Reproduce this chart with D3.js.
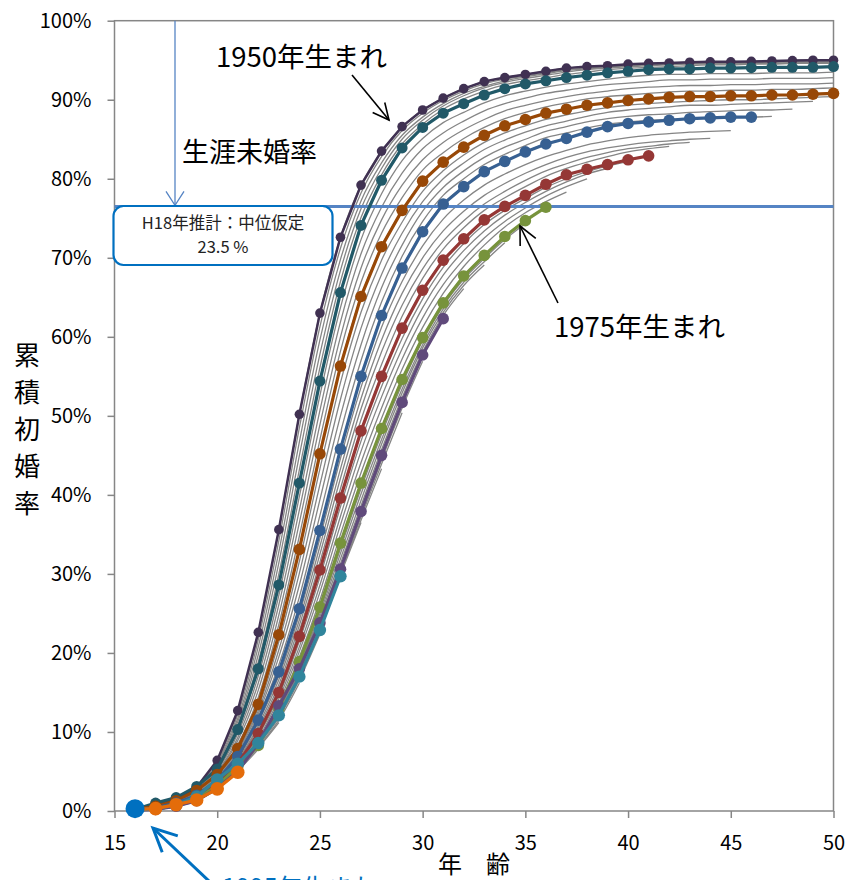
<!DOCTYPE html>
<html><head><meta charset="utf-8">
<script src="https://cdn.jsdelivr.net/npm/d3@7"></script>
<style>
body{margin:0;background:#fff;}
svg{display:block;}
text{font-family:"Noto Sans CJK JP","Noto Sans",sans-serif;}
</style>
</head><body>
<svg id="chart" width="848" height="880"></svg>
<script>
// ---------- data (cumulative first-marriage rate, %, from age 16) ----------
const START_AGE = 16;
const xTickValues = [15, 20, 25, 30, 35, 40, 45, 50];
const yTickValues = [0, 10, 20, 30, 40, 50, 60, 70, 80, 90, 100];
const lifetimeUnmarried = 23.5; // H18推計：中位仮定

// highlighted cohorts
const c1950 = [0.3,0.8,1.5,3.0,6.4, 12.7,22.6,35.6,50.2,63.0, 72.6,79.2,83.5,86.6,88.7, 90.2,91.4,92.3,92.8,93.2, 93.6,94.0,94.2,94.3,94.5, 94.6,94.65,94.75,94.8,94.8, 94.85,94.9,94.95,95.0,95.0];
const c1955 = [0.2,1.0,1.7,3.1,5.3, 10.3,18.0,28.6,41.5,54.4, 65.6,74.1,79.8,83.9,86.5, 88.3,89.5,90.6,91.4,92.0, 92.4,92.8,93.1,93.4,93.6, 93.8,93.9,93.9,94.0,94.0, 94.05,94.1,94.1,94.1,94.2];
const c1960 = [0.2,0.6,1.3,2.6,4.6, 7.9,13.5,22.3,33.1,45.2, 56.3,65.1,71.4,76.0,79.7, 82.1,84.0,85.5,86.7,87.5, 88.3,88.8,89.3,89.6,89.9, 90.1,90.3,90.4,90.4,90.5, 90.5,90.6,90.6,90.7,90.8];
const c1965 = [0.1,0.4,1.0,2.0,3.9, 6.9,11.5,17.6,25.6,35.5, 45.8,55.0,62.7,68.7,73.3, 76.8,79.0,80.9,82.2,83.4, 84.4,85.1,85.9,86.6,87.0, 87.2,87.4,87.6,87.7,87.8, 87.8];
const c1970 = [0.1,0.3,0.8,1.7,3.5, 6.0,9.8,15.0,22.1,30.5, 39.6,48.1,55.0,61.1,65.9, 69.7,72.4,74.8,76.5,77.9, 79.3,80.5,81.2,81.8,82.4, 82.9];
const c1975 = [0.1,0.3,0.7,1.5,3.2, 5.6,8.3,12.9,18.9,25.8, 33.9,41.5,48.4,54.6,59.9, 64.3,67.7,70.3,72.7,74.7, 76.4];
const c1980 = [0.1,0.2,0.6,1.3,2.9, 5.0,8.6,13.3,18.0,23.8, 30.6,37.9,45.0,51.7,57.7, 62.3];
const c1985 = [0.1,0.3,0.8,1.8,4.0, 6.0,8.6,12.1,17.0,22.9, 29.7];
const c1990 = [0.2,0.3,0.8,1.4,2.8, 4.9];
const c1995 = [0.3];

const highlightYears  = [1950, 1955, 1960, 1965, 1970, 1975, 1980, 1985, 1990, 1995];
const highlightValues = [c1950, c1955, c1960, c1965, c1970, c1975, c1980, c1985, c1990, c1995];
const highlightColors = ["#403152","#215968","#984807","#376092","#953735","#77933C","#604A7B","#31859C","#E46C0A","#0070C0"];

// other cohorts (thin grey lines)
const grayYears = [1951,1952,1953,1954, 1956,1957,1958,1959, 1961,1962,1963,1964, 1966,1967,1968,1969, 1971,1972,1973,1974, 1976,1977,1978,1979, 1981,1982,1983,1984, 1986,1987,1988,1989, 1991,1992,1993,1994];
const grayValues = [
 [0.3,0.8,1.5,3.0,6.2,12.2,21.7,34.2,48.5,61.3,71.2,78.2,82.8,86.1,88.3,89.9,91.1,92.0,92.6,93.0,93.4,93.8,94.0,94.2,94.4,94.5,94.6,94.7,94.7,94.7,94.8,94.8,94.9,94.9,94.9],
 [0.3,0.9,1.6,3.0,6.0,11.7,20.8,32.8,46.7,59.6,69.8,77.2,82.0,85.5,87.8,89.5,90.8,91.7,92.4,92.9,93.3,93.7,93.9,94.1,94.3,94.4,94.5,94.6,94.6,94.6,94.7,94.7,94.8,94.8,94.8],
 [0.2,0.9,1.6,3.1,5.7,11.3,19.8,31.4,45.0,57.8,68.4,76.2,81.3,85.0,87.4,89.2,90.5,91.5,92.2,92.7,93.1,93.5,93.8,94.0,94.2,94.3,94.4,94.5,94.5,94.5,94.6,94.6,94.7,94.7,94.7],
 [0.2,1.0,1.7,3.1,5.5,10.8,18.9,30.0,43.2,56.1,67.0,75.1,80.5,84.4,86.9,88.8,90.1,91.1,91.9,92.4,92.8,93.2,93.5,93.8,94.0,94.1,94.2,94.3,94.4,94.4,94.5,94.5,94.6,94.6,94.6],
 [0.2,0.9,1.6,3.0,5.2,9.8,17.1,27.3,39.8,52.6,63.7,72.3,78.1,82.3,85.1,87.1,88.4,89.6,90.5,91.1,91.6,92.0,92.3,92.6,92.9,93.1,93.2,93.2,93.3,93.3,93.3,93.4,93.4,93.4,93.5],
 [0.2,0.8,1.5,2.9,5.0,9.3,16.2,26.1,38.1,50.7,61.9,70.5,76.4,80.7,83.8,85.8,87.3,88.6,89.5,90.2,90.8,91.2,91.6,91.9,92.1,92.3,92.5,92.5,92.6,92.6,92.6,92.7,92.7,92.7,92.8],
 [0.2,0.7,1.4,2.8,4.9,8.9,15.3,24.8,36.5,48.9,60.0,68.7,74.8,79.2,82.4,84.6,86.2,87.5,88.6,89.3,89.9,90.4,90.8,91.1,91.4,91.6,91.7,91.8,91.8,91.9,91.9,92.0,92.0,92.0,92.1],
 [0.2,0.7,1.4,2.7,4.7,8.4,14.4,23.6,34.8,47.0,58.2,66.9,73.1,77.6,81.1,83.3,85.1,86.5,87.6,88.4,89.1,89.6,90.1,90.4,90.6,90.8,91.0,91.1,91.1,91.2,91.2,91.3,91.3,91.4,91.5],
 [0.2,0.6,1.2,2.5,4.5,7.7,13.1,21.4,31.6,43.3,54.2,63.1,69.7,74.5,78.4,81.0,83.0,84.6,85.8,86.7,87.5,88.1,88.6,89.0,89.3,89.5,89.7,89.8,89.9,90.0,90.0,90.1,90.2,90.3,90.4],
 [0.2,0.5,1.2,2.4,4.3,7.5,12.7,20.4,30.1,41.3,52.1,61.1,67.9,73.1,77.1,80.0,82.0,83.7,84.9,85.9,86.7,87.3,87.9,88.4,88.7,88.9,89.1,89.3,89.3,89.4,89.5,89.6,89.7,89.8],
 [0.1,0.5,1.1,2.2,4.2,7.3,12.3,19.5,28.6,39.4,50.0,59.0,66.2,71.6,75.9,78.9,81.0,82.7,84.0,85.0,86.0,86.6,87.2,87.6,87.9,88.1,88.2,88.4,88.5,88.6,88.7,88.7,88.8],
 [0.1,0.4,1.1,2.1,4.0,7.1,11.9,18.5,27.1,37.4,47.9,57.0,64.4,70.2,74.6,77.9,80.0,81.8,83.1,84.2,85.2,85.8,86.4,86.9,87.2,87.4,87.5,87.6,87.7,87.8,87.8,87.9],
 [0.1,0.4,1.0,1.9,3.8,6.7,11.2,17.1,24.9,34.5,44.6,53.6,61.2,67.0,71.5,74.9,77.3,79.2,80.6,81.8,82.8,83.6,84.3,84.8,85.2,85.5,85.7,85.9,86.0,86.1],
 [0.1,0.4,0.9,1.9,3.7,6.5,10.8,16.6,24.2,33.5,43.3,52.2,59.6,65.5,70.0,73.4,75.9,77.9,79.4,80.7,81.8,82.7,83.4,83.9,84.3,84.6,84.8,85.0,85.1],
 [0.1,0.3,0.9,1.8,3.7,6.4,10.5,16.0,23.5,32.5,42.1,50.9,58.1,64.0,68.6,72.1,74.7,76.8,78.4,79.8,81.0,81.9,82.7,83.3,83.8,84.1,84.4,84.6],
 [0.1,0.3,0.8,1.8,3.6,6.2,10.1,15.5,22.8,31.5,40.8,49.5,56.5,62.6,67.4,71.1,73.8,76.0,77.6,79.0,80.3,81.3,82.1,82.8,83.4,83.8,84.1],
 [0.1,0.3,0.8,1.7,3.4,5.9,9.5,14.6,21.5,29.6,38.5,46.8,53.7,59.8,64.8,68.8,71.8,74.2,76.0,77.5,78.9,80.0,80.9,81.6,82.2],
 [0.1,0.3,0.8,1.6,3.4,5.8,9.2,14.2,20.8,28.6,37.3,45.5,52.4,58.5,63.7,67.8,70.9,73.4,75.4,77.0,78.4,79.6,80.6,81.3],
 [0.1,0.3,0.7,1.6,3.3,5.8,8.9,13.7,20.2,27.7,36.2,44.1,51.0,57.2,62.4,66.6,69.8,72.5,74.6,76.3,77.8,79.0,80.0],
 [0.1,0.3,0.7,1.5,3.3,5.7,8.6,13.3,19.5,26.7,35.0,42.8,49.7,55.9,61.2,65.5,68.9,71.6,73.9,75.7,77.1,78.3],
 [0.1,0.3,0.7,1.5,3.1,5.5,8.4,13.0,18.7,25.4,33.2,40.8,47.7,54.0,59.5,63.9,67.3,69.9,72.3,74.3],
 [0.1,0.3,0.7,1.4,3.1,5.4,8.4,13.1,18.5,25.0,32.6,40.1,47.0,53.4,59.0,63.5,66.9,69.5,71.9],
 [0.1,0.2,0.6,1.4,3.0,5.2,8.5,13.2,18.4,24.6,31.9,39.3,46.4,52.9,58.6,63.1,66.5,69.1],
 [0.1,0.2,0.6,1.3,3.0,5.1,8.5,13.2,18.2,24.2,31.3,38.6,45.7,52.3,58.1,62.7,66.1],
 [0.1,0.2,0.6,1.4,3.1,5.2,8.6,13.1,17.8,23.6,30.4,37.5,44.4,51.0,56.9],
 [0.1,0.2,0.7,1.5,3.3,5.4,8.6,12.8,17.6,23.4,30.2,37.2,43.9,50.4],
 [0.1,0.3,0.7,1.6,3.6,5.6,8.6,12.6,17.4,23.3,30.1,36.8,43.3],
 [0.1,0.3,0.8,1.7,3.8,5.8,8.6,12.3,17.2,23.1,29.9,36.5],
 [0.1,0.3,0.8,1.7,3.8,5.8,8.4,11.8,16.6,22.4],
 [0.1,0.3,0.8,1.6,3.5,5.6,8.2,11.5,16.2],
 [0.2,0.3,0.8,1.5,3.3,5.3,8.0,11.2],
 [0.2,0.3,0.8,1.5,3.0,5.1,7.8],
 [0.2,0.3,0.8,1.4,2.7],
 [0.2,0.3,0.7,1.4],
 [0.2,0.3,0.7],
 [0.2,0.3]
];

// ---------- drawing ----------
const svg = d3.select("#chart");
const x = d3.scaleLinear().domain([15, 50]).range([114.5, 833.5]);
const y = d3.scaleLinear().domain([0, 100]).range([811, 20.7]);
const toPts = vals => vals.map((v, i) => [START_AGE + i, v]);

// frame
svg.append("rect").attr("x", x(15)).attr("y", y(100))
  .attr("width", x(50) - x(15)).attr("height", y(0) - y(100))
  .attr("fill", "none").attr("stroke", "#868686").attr("stroke-width", 1.5);

// axes
const yAxis = svg.append("g").attr("transform", `translate(${x(15)},0)`)
  .call(d3.axisLeft(y).tickValues(yTickValues).tickFormat(d => d + "%").tickSize(7).tickPadding(16));
const xAxis = svg.append("g").attr("transform", `translate(0,${y(0)})`)
  .call(d3.axisBottom(x).tickValues(xTickValues).tickSize(7).tickPadding(18));
[yAxis, xAxis].forEach(g => {
  g.select(".domain").remove();
  g.selectAll("line").attr("stroke", "#868686").attr("stroke-width", 1.5);
  g.selectAll("text").attr("fill", "#000").style("font-size", "20px")
    .style("font-family", "'Noto Sans CJK JP','Noto Sans',sans-serif");
});

// grey cohort lines (all cohorts)
const smooth = d3.line().x(d => x(d[0])).y(d => y(d[1])).curve(d3.curveMonotoneX);
const allGray = grayValues.concat(highlightValues.filter(v => v.length > 1));
svg.append("g").selectAll("path").data(allGray).join("path")
  .attr("d", d => smooth(toPts(d)))
  .attr("fill", "none").attr("stroke", "#858585").attr("stroke-width", 1.3);

// reference line 76.5% (生涯未婚率 23.5%)
svg.append("line").attr("x1", x(15)).attr("x2", x(50))
  .attr("y1", y(100 - lifetimeUnmarried)).attr("y2", y(100 - lifetimeUnmarried))
  .attr("stroke", "#5584C4").attr("stroke-width", 3);

// highlighted cohorts
const straight = d3.line().x(d => x(d[0])).y(d => y(d[1]));
const markerR = [4.8, 5.5, 5.8, 5.8, 5.8, 5.8, 5.8, 6.2, 6.8, 9.5];
highlightValues.forEach((vals, i) => {
  const g = svg.append("g");
  const pts = toPts(vals);
  if (pts.length > 1) {
    g.append("path").attr("d", straight(pts)).attr("fill", "none")
      .attr("stroke", highlightColors[i]).attr("stroke-width", i === 0 ? 2.5 : 3.2);
  }
  g.selectAll("circle").data(pts).join("circle")
    .attr("cx", d => x(d[0])).attr("cy", d => y(d[1])).attr("r", markerR[i])
    .attr("fill", highlightColors[i]);
});

// vertical arrow for 生涯未婚率
const ax = 175;
svg.append("line").attr("x1", ax).attr("x2", ax).attr("y1", y(100)).attr("y2", y(100 - lifetimeUnmarried) - 1)
  .attr("stroke", "#5584C4").attr("stroke-width", 1.3);
svg.append("path").attr("d", `M${ax - 9},${y(100 - lifetimeUnmarried) - 15} L${ax},${y(100 - lifetimeUnmarried) - 1} L${ax + 9},${y(100 - lifetimeUnmarried) - 15}`)
  .attr("fill", "none").attr("stroke", "#5584C4").attr("stroke-width", 1.3);

// annotation box
svg.append("rect").attr("x", 113.5).attr("y", 206).attr("width", 219).attr("height", 59).attr("rx", 10)
  .attr("fill", "#fff").attr("stroke", "#0070C0").attr("stroke-width", 2.2);
svg.append("text").attr("x", 223).attr("y", 229).attr("text-anchor", "middle")
  .style("font-size", "16.5px").attr("fill", "#222").text("H18年推計：中位仮定");
svg.append("text").attr("x", 223).attr("y", 253).attr("text-anchor", "middle")
  .style("font-size", "16.5px").attr("fill", "#222").text("23.5 %");

// labels
svg.append("text").attr("x", 182).attr("y", 162).style("font-size", "27px").attr("fill", "#000").text("生涯未婚率");
svg.append("text").attr("x", 216).attr("y", 67).style("font-size", "27.5px").attr("fill", "#000").text("1950年生まれ");
svg.append("text").attr("x", 554).attr("y", 337).style("font-size", "27.5px").attr("fill", "#000").text("1975年生まれ");
svg.append("text").attr("x", 222).attr("y", 897).style("font-size", "25px").attr("fill", "#0070C0").text("1995年生まれ");

// arrows
function arrow(x1, y1, x2, y2, color, w, len) {
  const a = Math.atan2(y2 - y1, x2 - x1), s = 0.45;
  svg.append("line").attr("x1", x1).attr("y1", y1).attr("x2", x2).attr("y2", y2)
    .attr("stroke", color).attr("stroke-width", w);
  svg.append("path").attr("d",
    `M${x2 - len * Math.cos(a - s)},${y2 - len * Math.sin(a - s)} L${x2},${y2} L${x2 - len * Math.cos(a + s)},${y2 - len * Math.sin(a + s)}`)
    .attr("fill", "none").attr("stroke", color).attr("stroke-width", w);
}
arrow(352, 75, 389, 120, "#000", 1.6, 18);
arrow(558, 303, 520, 226, "#000", 1.6, 20);
arrow(210, 882, 153, 828, "#0070C0", 3, 26);

// axis titles
const yTitle = ["累", "積", "初", "婚", "率"];
svg.append("g").selectAll("text").data(yTitle).join("text")
  .attr("x", 27).attr("y", (d, i) => 365 + i * 37).attr("text-anchor", "middle")
  .style("font-size", "26px").attr("fill", "#000").text(d => d);
svg.append("text").attr("x", 450).attr("y", 873).attr("text-anchor", "middle").style("font-size", "24px").text("年");
svg.append("text").attr("x", 498).attr("y", 873).attr("text-anchor", "middle").style("font-size", "24px").text("齢");
</script>
</body></html>
